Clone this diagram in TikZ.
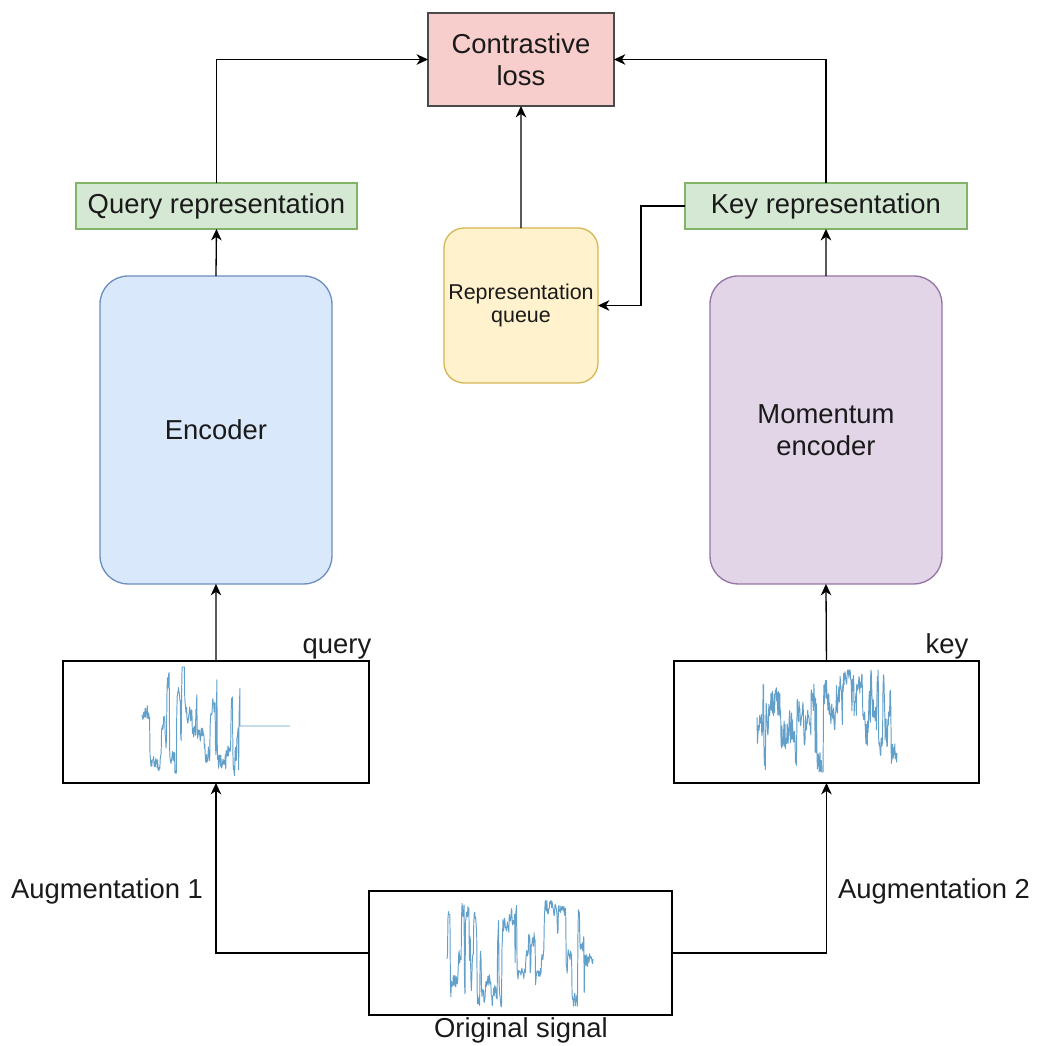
\documentclass[tikz,border=0pt]{standalone}
\usepackage{fontspec}
\setmainfont{Liberation Sans}
\usetikzlibrary{arrows.meta}

\definecolor{ink}{HTML}{1A1A1A}
\definecolor{lossfill}{HTML}{F8CECC}
\definecolor{lossline}{HTML}{4A4A4A}
\definecolor{repfill}{HTML}{D5E8D4}
\definecolor{repline}{HTML}{82B366}
\definecolor{encfill}{HTML}{DAE8FC}
\definecolor{encline}{HTML}{6C8EBF}
\definecolor{momfill}{HTML}{E1D5E7}
\definecolor{momline}{HTML}{9673A6}
\definecolor{quefill}{HTML}{FFF2CC}
\definecolor{queline}{HTML}{D6B656}
\definecolor{sigblue}{HTML}{1F77B4}

% Builds a pseudo-random level-switching trace into \wpts
% #1 x0, #2 y centre, #3 width, #4 half height, #5 seed, #6 samples, #7 jitter, #8 switch probability
\newcommand\mkwave[8]{%
  \pgfmathsetseed{#5}%
  \gdef\wlvl{0}\gdef\wval{0}\gdef\wpts{}%
  \foreach \k in {0,...,#6}{%
    \pgfmathsetmacro\wr{rnd}%
    \ifdim\wr pt<#8pt
      \pgfmathsetmacro\wt{2*rnd-1}\global\let\wlvl\wt
    \fi
    \pgfmathsetmacro\wt{\wval+0.8*(\wlvl-\wval)+#7*(rnd-0.5)}%
    \pgfmathsetmacro\wt{max(-1,min(1,\wt))}%
    \global\let\wval\wt
    \pgfmathsetmacro\wx{#1+#3*(\k/#6)}%
    \pgfmathsetmacro\wy{#2-#4*\wval}%
    \xdef\wpts{\wpts(\wx,\wy)}%
  }%
}

\tikzset{
  lbl/.style={font=\fontsize{15.6}{18.1}\selectfont, text=ink},
  small/.style={font=\fontsize{12.2}{13.6}\selectfont, text=ink},
  box/.style={anchor=north west, inner sep=0pt, outer sep=0pt, line width=0.75pt, align=center, lbl},
  conn/.style={line width=0.75pt, draw=black, -{Stealth[length=6.5pt,width=6pt,inset=2pt]}},
  sigline/.style={draw=sigblue, line width=0.55pt, opacity=0.7, line join=round}
}

\begin{document}
\begin{tikzpicture}[x=0.02cm, y=-0.02cm]
\useasboundingbox (0,0) rectangle (1038,1046);

% main blocks
\node[box, fill=lossfill, draw=lossline, minimum width=3.72cm, minimum height=1.86cm]
  (loss) at (428,13) {Contrastive\\loss};
\node[box, fill=repfill, draw=repline, minimum width=5.62cm, minimum height=0.92cm]
  (qrep) at (76,183) {Query representation};
\node[box, fill=repfill, draw=repline, minimum width=5.64cm, minimum height=0.92cm]
  (krep) at (685,183) {Key representation};
\node[box, fill=encfill, draw=encline, rounded corners=0.56cm, minimum width=4.64cm, minimum height=6.16cm]
  (enc) at (100,276) {Encoder};
\node[box, fill=momfill, draw=momline, rounded corners=0.56cm, minimum width=4.64cm, minimum height=6.16cm]
  (menc) at (710,276) {Momentum\\encoder};
\node[box, small, fill=quefill, draw=queline, rounded corners=0.4cm, minimum width=3.08cm, minimum height=3.10cm]
  (queue) at (444,228) {Representation\\queue};

% signal panels
\node[box, draw=black, minimum width=6.12cm, minimum height=2.44cm] (qsig) at (63,661) {};
\node[box, draw=black, minimum width=6.10cm, minimum height=2.44cm] (ksig) at (674,661) {};
\node[box, draw=black, minimum width=6.06cm, minimum height=2.48cm] (orig) at (369,891) {};

% traces
\mkwave{447}{953}{146}{54}{7}{300}{0.3}{0.14}
\edef\wdraw{\noexpand\draw[sigline] plot coordinates {\wpts};}\wdraw
\mkwave{142}{722}{98}{55}{11}{220}{0.3}{0.15}
\edef\wdraw{\noexpand\draw[sigline] plot coordinates {\wpts (240,726) (290,726)};}\wdraw
\mkwave{757}{721}{140}{51}{23}{320}{0.6}{0.16}
\edef\wdraw{\noexpand\draw[sigline] plot coordinates {\wpts};}\wdraw

% labels
\node[lbl, anchor=base] (qlab) at (337,653) {query};
\node[lbl, anchor=base] (klab) at (947,653) {key};
\node[lbl, anchor=base] (aug1) at (107,898) {Augmentation 1};
\node[lbl, anchor=base] (aug2) at (934,898) {Augmentation 2};
\node[lbl, anchor=base] (olab) at (521,1037) {Original signal};

% connectors
\draw[conn] (qrep.north) |- (loss.west);
\draw[conn] (krep.north) |- (loss.east);
\draw[conn] (queue.north) -- (loss.south);
\draw[conn] (krep.west) -- ++(-44,0) |- (queue.east);
\draw[conn] (enc.north) -- (qrep.south);
\draw[conn] (menc.north) -- (krep.south);
\draw[conn] (qsig.north) -- (enc.south);
\draw[conn] (ksig.north) -- (menc.south);
\draw[conn] (orig.west) -| (qsig.south);
\draw[conn] (orig.east) -| (ksig.south);
\end{tikzpicture}
\end{document}
